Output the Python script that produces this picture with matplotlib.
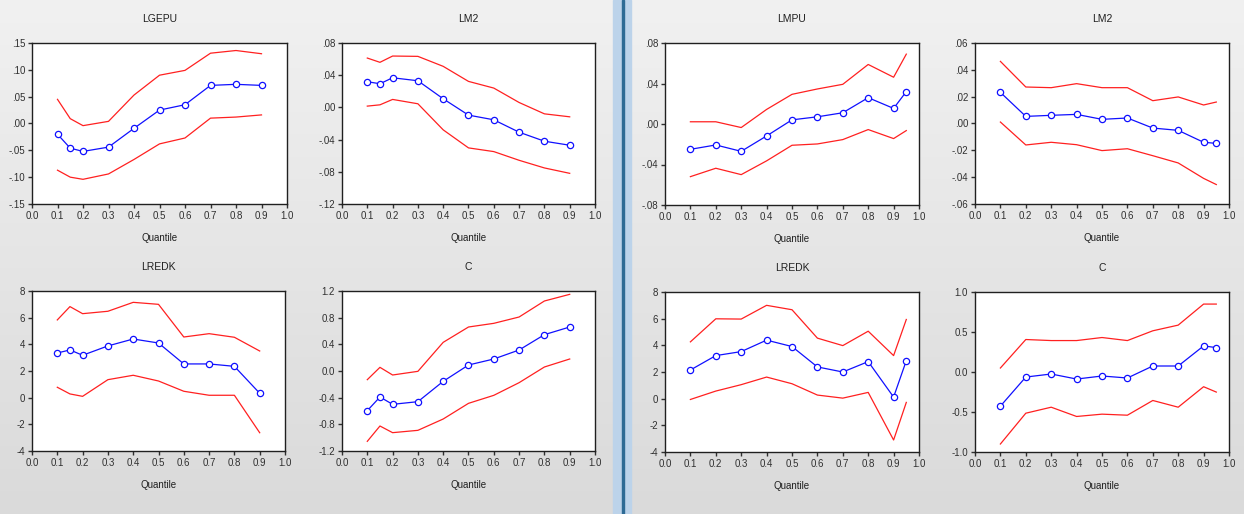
import numpy as np
import matplotlib
matplotlib.use("Agg")
from matplotlib import pyplot

"""Quantile process estimates (coefficient with upper / lower bands)"""

quantiles_left = [0.1, 0.15, 0.2, 0.3, 0.4, 0.5, 0.6, 0.7, 0.8, 0.9]
quantiles_right = [0.1, 0.2, 0.3, 0.4, 0.5, 0.6, 0.7, 0.8, 0.9, 0.95]

x_ticks = [0.0, 0.1, 0.2, 0.3, 0.4, 0.5, 0.6, 0.7, 0.8, 0.9, 1.0]
x_tick_labels = ["0.0", "0.1", "0.2", "0.3", "0.4", "0.5", "0.6", "0.7", "0.8", "0.9", "1.0"]

# left window, top row
lgepu_coef = [-0.020, -0.046, -0.052, -0.044, -0.009, 0.025, 0.035, 0.071, 0.073, 0.071]
lgepu_upper = [0.045, 0.009, -0.004, 0.004, 0.053, 0.090, 0.099, 0.131, 0.136, 0.130]
lgepu_lower = [-0.087, -0.100, -0.104, -0.094, -0.067, -0.038, -0.027, 0.010, 0.012, 0.016]
lgepu_yticks = [-0.15, -0.10, -0.05, 0.0, 0.05, 0.10, 0.15]
lgepu_ylabels = ["-.15", "-.10", "-.05", ".00", ".05", ".10", ".15"]

lm2a_coef = [0.0319, 0.0294, 0.0368, 0.0331, 0.0107, -0.0096, -0.0154, -0.0308, -0.042, -0.047]
lm2a_upper = [0.0613, 0.056, 0.0638, 0.0634, 0.051, 0.0323, 0.024, 0.0061, -0.008, -0.0117]
lm2a_lower = [0.0016, 0.0032, 0.0099, 0.0045, -0.0279, -0.0503, -0.0549, -0.0657, -0.0752, -0.0819]
lm2a_yticks = [-0.12, -0.08, -0.04, 0.0, 0.04, 0.08]
lm2a_ylabels = ["-.12", "-.08", "-.04", ".00", ".04", ".08"]

# left window, bottom row
lredka_coef = [3.35, 3.58, 3.18, 3.88, 4.40, 4.10, 2.53, 2.53, 2.35, 0.33]
lredka_upper = [5.83, 6.83, 6.30, 6.48, 7.15, 7.00, 4.55, 4.80, 4.53, 3.50]
lredka_lower = [0.78, 0.28, 0.10, 1.35, 1.68, 1.25, 0.48, 0.18, 0.18, -2.63]
lredka_yticks = [-4, -2, 0, 2, 4, 6, 8]
lredka_ylabels = ["-4", "-2", "0", "2", "4", "6", "8"]

ca_coef = [-0.595, -0.39, -0.50, -0.46, -0.155, 0.09, 0.18, 0.315, 0.545, 0.66]
ca_upper = [-0.13, 0.055, -0.06, -0.005, 0.43, 0.66, 0.715, 0.81, 1.05, 1.15]
ca_lower = [-1.055, -0.825, -0.925, -0.89, -0.72, -0.485, -0.365, -0.175, 0.06, 0.18]
ca_yticks = [-1.2, -0.8, -0.4, 0.0, 0.4, 0.8, 1.2]
ca_ylabels = ["-1.2", "-0.8", "-0.4", "0.0", "0.4", "0.8", "1.2"]

# right window, top row
lmpu_coef = [-0.025, -0.0207, -0.027, -0.0118, 0.0041, 0.0071, 0.0111, 0.026, 0.0154, 0.032]
lmpu_upper = [0.0022, 0.0022, -0.0035, 0.0144, 0.0293, 0.0346, 0.0392, 0.0588, 0.0462, 0.069]
lmpu_lower = [-0.052, -0.0437, -0.050, -0.0364, -0.021, -0.0197, -0.0154, -0.0055, -0.0144, -0.0065]
lmpu_yticks = [-0.08, -0.04, 0.0, 0.04, 0.08]
lmpu_ylabels = ["-.08", "-.04", ".00", ".04", ".08"]

lm2b_coef = [0.0232, 0.0053, 0.0061, 0.0068, 0.0031, 0.0041, -0.0034, -0.0051, -0.014, -0.0148]
lm2b_upper = [0.0463, 0.0272, 0.0267, 0.0297, 0.0267, 0.0267, 0.017, 0.0198, 0.0138, 0.016]
lm2b_lower = [0.0011, -0.016, -0.014, -0.0158, -0.0202, -0.0188, -0.024, -0.0294, -0.0409, -0.0455]
lm2b_yticks = [-0.06, -0.04, -0.02, 0.0, 0.02, 0.04, 0.06]
lm2b_ylabels = ["-.06", "-.04", "-.02", ".00", ".02", ".04", ".06"]

# right window, bottom row
lredkb_coef = [2.15, 3.23, 3.53, 4.39, 3.91, 2.38, 2.00, 2.78, 0.12, 2.85]
lredkb_upper = [4.26, 5.99, 5.97, 7.00, 6.67, 4.54, 3.98, 5.06, 3.23, 5.94]
lredkb_lower = [-0.06, 0.57, 1.05, 1.62, 1.12, 0.27, 0.04, 0.47, -3.10, -0.28]
lredkb_yticks = [-4, -2, 0, 2, 4, 6, 8]
lredkb_ylabels = ["-4", "-2", "0", "2", "4", "6", "8"]

cb_coef = [-0.427, -0.063, -0.025, -0.088, -0.05, -0.075, 0.075, 0.075, 0.326, 0.305]
cb_upper = [0.05, 0.406, 0.393, 0.393, 0.431, 0.393, 0.515, 0.586, 0.849, 0.849]
cb_lower = [-0.90, -0.515, -0.44, -0.556, -0.527, -0.54, -0.356, -0.44, -0.184, -0.251]
cb_yticks = [-1.0, -0.5, 0.0, 0.5, 1.0]
cb_ylabels = ["-1.0", "-0.5", "0.0", "0.5", "1.0"]

W, H = 1244, 514
pyplot.rcParams["font.family"] = ["Liberation Sans", "DejaVu Sans"]
fig = pyplot.figure(figsize=(W / 100, H / 100), dpi=100)


def px_box(left, top, right, bottom):
    """convert a pixel box into figure fractions"""
    return [left / W, 1 - bottom / H, (right - left) / W, (bottom - top) / H]


# window backgrounds (vertical grey gradient) and the splitter between them
grad = np.linspace(0.945, 0.855, 256).reshape(-1, 1)
for l, r in [(0, 613), (631, W)]:
    bg = fig.add_axes(px_box(l, 0, r, H), zorder=-10)
    bg.imshow(np.dstack([grad, grad, grad]), aspect="auto", extent=[0, 1, 0, 1])
    bg.axis("off")
fig.patches.append(matplotlib.patches.Rectangle((613 / W, 0), 18 / W, 1, transform=fig.transFigure,
                                                color="#bcd3ea", zorder=-9))
fig.patches.append(matplotlib.patches.Rectangle((622 / W, 0), 2 / W, 1, transform=fig.transFigure,
                                                color="#2e6b95", zorder=-8))


def draw_panel(box, title, quantiles, coef, upper, lower, yticks, ylabels):
    ax = fig.add_axes(px_box(*box))
    ax.set_facecolor("white")
    ax.plot(quantiles, upper, color="#ff2020", lw=0.9)
    ax.plot(quantiles, lower, color="#ff2020", lw=0.9)
    ax.plot(quantiles, coef, color="#1010ff", lw=0.9, marker="o", markersize=4.5,
            markerfacecolor="white", markeredgecolor="#1010ff", markeredgewidth=0.9)
    ax.set_xlim(0.0, 1.0)
    ax.set_ylim(yticks[0], yticks[-1])
    ax.set_xticks(x_ticks)
    ax.set_xticklabels(x_tick_labels)
    ax.set_yticks(yticks)
    ax.set_yticklabels(ylabels)
    ax.tick_params(direction="out", length=3, width=1, pad=2, labelsize=7, colors="#303030")
    for s in ax.spines.values():
        s.set_color("#202020")
        s.set_linewidth(1.0)
    ax.set_title(title, fontsize=7.5, pad=15, color="#202020")
    ax.set_xlabel("Quantile", fontsize=7, labelpad=9, color="#202020")
    return ax


draw_panel((32, 43, 287, 204), "LGEPU", quantiles_left, lgepu_coef, lgepu_upper, lgepu_lower,
           lgepu_yticks, lgepu_ylabels)
draw_panel((342, 43, 595, 204), "LM2", quantiles_left, lm2a_coef, lm2a_upper, lm2a_lower,
           lm2a_yticks, lm2a_ylabels)
draw_panel((32, 291, 285, 451), "LREDK", quantiles_left, lredka_coef, lredka_upper, lredka_lower,
           lredka_yticks, lredka_ylabels)
draw_panel((342, 291, 595, 451), "C", quantiles_left, ca_coef, ca_upper, ca_lower,
           ca_yticks, ca_ylabels)

draw_panel((665, 43, 919, 205), "LMPU", quantiles_right, lmpu_coef, lmpu_upper, lmpu_lower,
           lmpu_yticks, lmpu_ylabels)
draw_panel((975, 43, 1229, 204), "LM2", quantiles_right, lm2b_coef, lm2b_upper, lm2b_lower,
           lm2b_yticks, lm2b_ylabels)
draw_panel((665, 292, 919, 452), "LREDK", quantiles_right, lredkb_coef, lredkb_upper, lredkb_lower,
           lredkb_yticks, lredkb_ylabels)
draw_panel((975, 292, 1229, 452), "C", quantiles_right, cb_coef, cb_upper, cb_lower,
           cb_yticks, cb_ylabels)

fig.savefig("out.png", dpi=100)
